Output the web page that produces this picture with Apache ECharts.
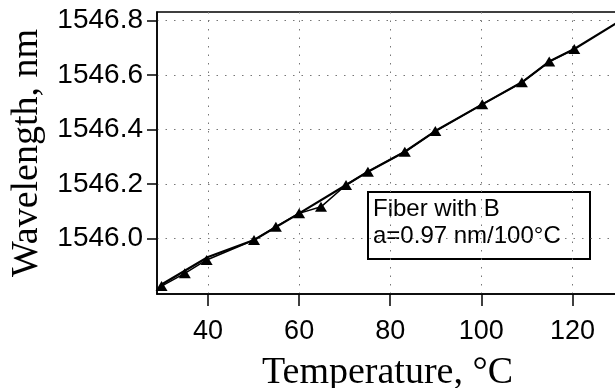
<!DOCTYPE html>
<html>
<head>
<meta charset="utf-8">
<script src="https://cdn.jsdelivr.net/npm/echarts@6/dist/echarts.min.js"></script>
<style>html,body{margin:0;padding:0;background:#fff;}#c{width:615px;height:388px;}</style>
</head>
<body>
<div id="c"></div>
<script>
// Measured points (triangles, connected)
const temps = [29.8, 34.9, 39.7, 50.1, 54.9, 60.0, 64.8, 70.3, 75.1, 83.2, 89.9, 100.2, 108.9, 114.9, 120.4];
const wavelengths = [1545.826, 1545.873, 1545.922, 1545.995, 1546.044, 1546.093, 1546.117, 1546.197, 1546.246, 1546.319, 1546.395, 1546.493, 1546.574, 1546.650, 1546.696];
// Second (smoother) trace
const trace2T = [29.8, 40.0, 50.1, 60.0, 70.3, 75.1, 83.2, 89.9, 100.2, 108.9, 114.9, 120.4, 130.0];
const trace2W = [1545.832, 1545.933, 1545.995, 1546.093, 1546.197, 1546.246, 1546.319, 1546.395, 1546.493, 1546.574, 1546.650, 1546.696, 1546.795];
const xTicks = [40, 60, 80, 100, 120];
const yTicks = [1546.0, 1546.2, 1546.4, 1546.6, 1546.8];
const legendLines = ['Fiber with B', 'a=0.97 nm/100°C'];

const chart = echarts.init(document.getElementById('c'), null, {renderer: 'canvas'});
const sans = 'Liberation Sans, Arial, sans-serif';
const serif = 'Liberation Serif, Times New Roman, serif';
const gridStyle = {color: '#777', width: 1, type: [1.5, 7]};

chart.setOption({
  animation: false,
  backgroundColor: '#fff',
  grid: {left: 157, top: 12, right: -3, bottom: 94, outerBoundsMode: 'none', containLabel: false, show: true, borderColor: '#000', borderWidth: 1.5, backgroundColor: 'transparent'},
  xAxis: {
    type: 'value', min: 28.8, max: 130,
    name: 'Temperature, °C', nameLocation: 'middle', nameGap: 60,
    nameTextStyle: {fontFamily: serif, fontSize: 38, color: '#000'},
    axisLine: {show: true, lineStyle: {color: '#000', width: 1.5}},
    axisTick: {show: true, length: 12, inside: false, customValues: xTicks, lineStyle: {color: '#000', width: 1.5}},
    axisLabel: {customValues: xTicks, margin: 24, fontFamily: sans, fontSize: 27, color: '#000'},
    splitLine: {show: true, lineStyle: gridStyle}
  },
  yAxis: {
    type: 'value', min: 1545.797, max: 1546.832,
    name: 'Wavelength, nm', nameLocation: 'middle', nameGap: 105,
    nameTextStyle: {fontFamily: serif, fontSize: 38, color: '#000'},
    axisLine: {show: true, lineStyle: {color: '#000', width: 1.5}},
    axisTick: {show: true, length: 10, inside: false, customValues: yTicks, lineStyle: {color: '#000', width: 1.5}},
    axisLabel: {customValues: yTicks, margin: 14, fontFamily: sans, fontSize: 28, color: '#000', formatter: v => v.toFixed(1)},
    splitLine: {show: true, lineStyle: gridStyle}
  },
  series: [
    {
      type: 'line', data: trace2T.map((t, i) => [t, trace2W[i]]),
      showSymbol: false, symbol: 'none',
      lineStyle: {color: '#000', width: 2.2}, z: 2
    },
    {
      type: 'line', data: temps.map((t, i) => [t, wavelengths[i]]),
      symbol: 'triangle', symbolSize: [12, 10],
      itemStyle: {color: '#000'},
      lineStyle: {color: '#000', width: 1.5}, z: 3
    }
  ],
  graphic: [{
    type: 'group', z: 100,
    children: [
      {type: 'rect', shape: {x: 368, y: 192, width: 222, height: 67}, style: {fill: '#fff', stroke: '#000', lineWidth: 2}},
      {type: 'text', x: 373, y: 196, style: {text: legendLines.join('\n'), font: '24px ' + sans, lineHeight: 27, fill: '#000'}}
    ]
  }]
});
</script>
</body>
</html>
